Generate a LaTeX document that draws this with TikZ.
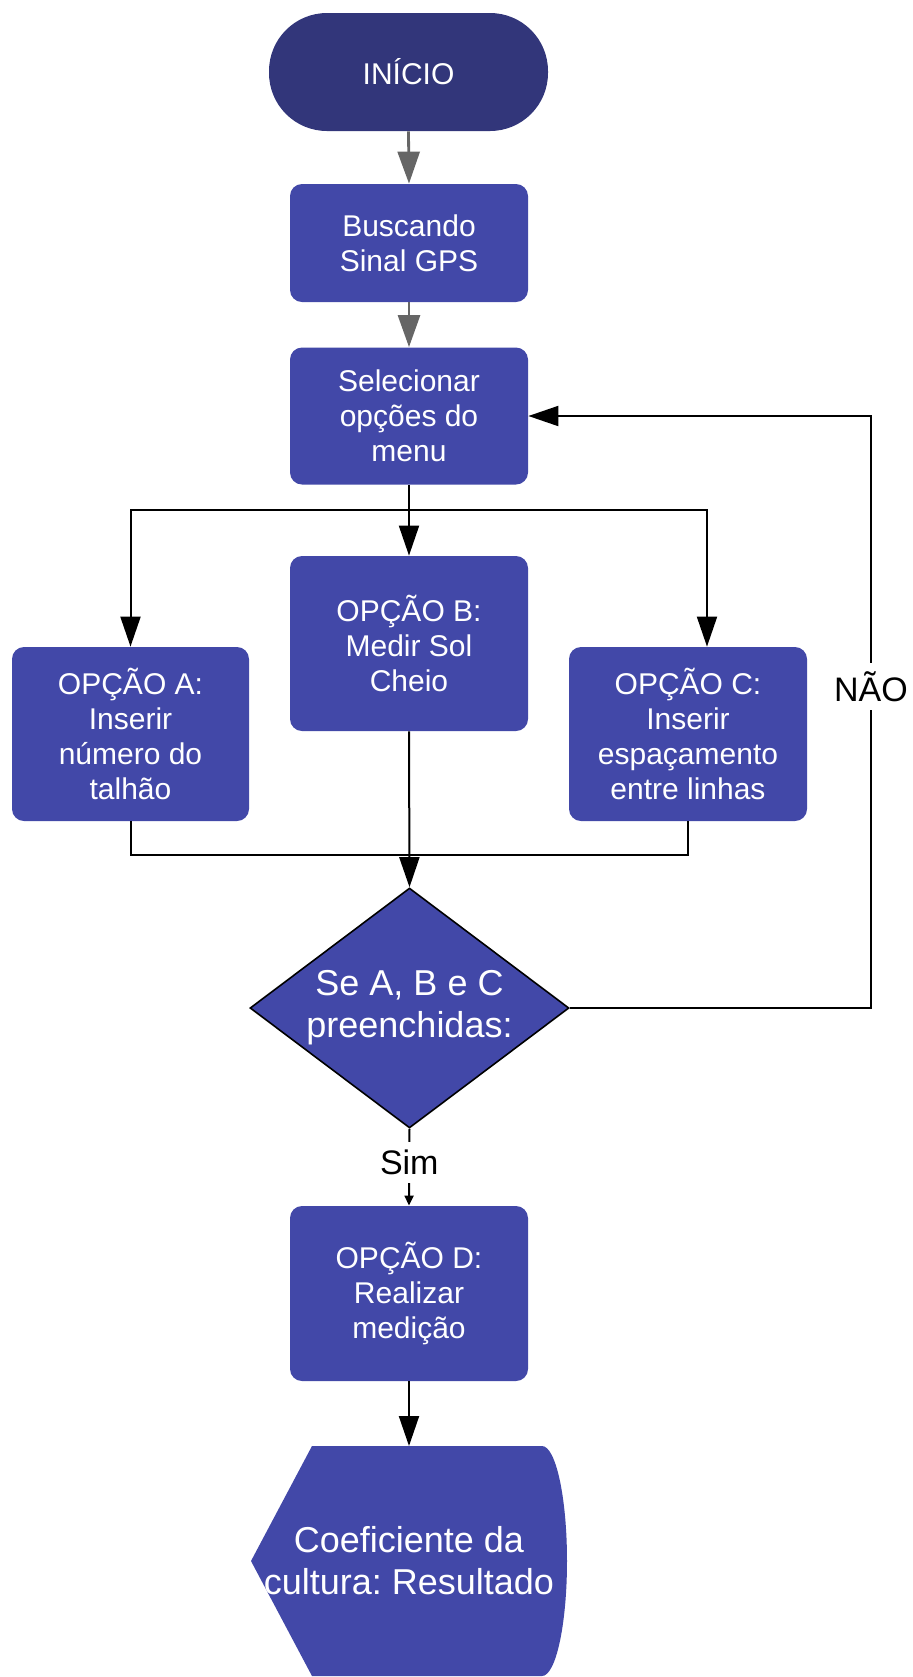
\documentclass[tikz,border=0pt]{standalone}
\usepackage{fontspec}
\setmainfont{Liberation Sans}
\usetikzlibrary{shapes.geometric,arrows.meta,calc}
\definecolor{termblue}{RGB}{50,54,122}
\definecolor{boxblue}{RGB}{66,72,168}
\definecolor{flowgray}{RGB}{102,102,102}
\frenchspacing

\begin{document}
\begin{tikzpicture}[x=0.5pt,y=-0.5pt,
  stepbox/.style={rectangle, rounded corners=6pt, fill=boxblue, text=white,
    align=center, inner sep=0pt, minimum width=119pt,
    font=\fontsize{15}{17.5}\selectfont},
  termbox/.style={rectangle, rounded corners=29pt, fill=termblue, text=white,
    inner sep=0pt, minimum width=139.5pt, minimum height=59pt,
    font=\fontsize{15}{17.5}\selectfont},
  decbox/.style={diamond, shape aspect=1.33, fill=boxblue, draw=black,
    line width=0.8pt, text=white, align=center, inner sep=0pt,
    minimum width=159.5pt, minimum height=120pt,
    font=\fontsize{18}{21}\selectfont},
  flowlabel/.style={fill=white, inner sep=4pt, font=\fontsize{17}{20}\selectfont},
  greyarrow/.style={draw=flowgray, line width=1.4pt,
    -{Triangle[length=16pt,width=11pt]}, color=flowgray},
  blackarrow/.style={draw=black, line width=1pt,
    -{Triangle[length=15pt,width=10pt]}},
  smallarrow/.style={draw=black, line width=1pt,
    -{Triangle[length=5pt,width=4.5pt]}},
  plainline/.style={draw=black, line width=1pt}
]
\useasboundingbox (0,0) rectangle (912,1677);

% process nodes
\node[termbox] (start) at (408.5,72) {INÍCIO};
\node[stepbox, minimum height=59pt] (busca) at (409,243) {Buscando\\Sinal GPS};
\node[stepbox, minimum height=68.5pt] (sel) at (409,416) {Selecionar\\opções do\\menu};
\node[stepbox, minimum width=118.5pt, minimum height=87pt] (optA) at (130.5,734)
  {OPÇÃO A:\\Inserir\\número do\\talhão};
\node[stepbox, minimum height=87.5pt] (optB) at (409,643.5)
  {OPÇÃO B:\\Medir Sol\\Cheio};
\node[stepbox, minimum height=87pt] (optC) at (688,734)
  {OPÇÃO C:\\Inserir\\espaçamento\\entre linhas};
\node[decbox] (dec) at (409.5,1008) {Se A, B e C\\preenchidas:};
\node[stepbox, minimum height=87.5pt] (optD) at (409,1293.5)
  {OPÇÃO D:\\Realizar\\medição};

% display-shaped result
\fill[boxblue] (312,1446) -- (542,1446)
  .. controls (555.8,1446) and (567,1497.5) .. (567,1561)
  .. controls (567,1624.5) and (555.8,1676) .. (542,1676)
  -- (312,1676) -- (251,1561) -- cycle;
\node[text=white, align=center, inner sep=0pt,
  font=\fontsize{18}{21}\selectfont] (res) at (409,1561)
  {Coeficiente da\\cultura: Resultado};

% helper points for the routing
\coordinate (restop) at (409,1446);
\coordinate (split) at (409,510);
\coordinate (merge) at (409,855);
\coordinate (loop) at (871,0);

% connectors
\draw[greyarrow] (start.south) -- (busca.north);
\draw[greyarrow] (busca.south) -- (sel.north);
\draw[blackarrow] (sel.south) -- (optB.north);
\draw[blackarrow] (split) -| (optA.north);
\draw[blackarrow] (split) -| ([xshift=9.5pt]optC.north);
\draw[plainline] (optA.south) |- (merge);
\draw[plainline] (optC.south) |- (merge);
\draw[blackarrow] (optB.south) -- (dec.north);
\draw[blackarrow] (dec.east) -- (dec.east -| loop)
  -- node[flowlabel, pos=0.543] (nao) {NÃO} (sel.east -| loop) -- (sel.east);
\draw[smallarrow] (dec.south) -- node[flowlabel, pos=0.44] (sim) {Sim} (optD.north);
\draw[blackarrow] (optD.south) -- (restop);
\end{tikzpicture}
\end{document}
